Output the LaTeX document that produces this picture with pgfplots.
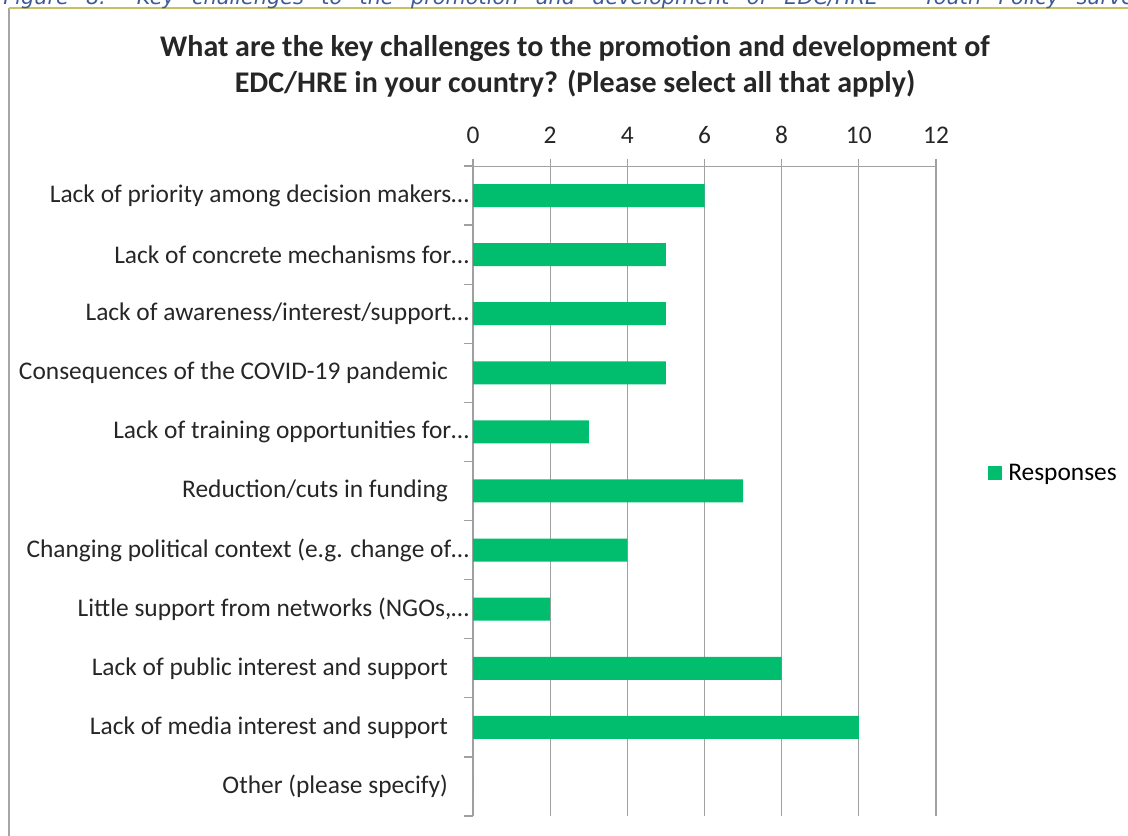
\documentclass[border=0pt]{standalone}
\usepackage{pgfplots}
\pgfplotsset{compat=1.18}
\usepackage{fontspec}
\setmainfont{Carlito}
\newfontfamily\capfont{DejaVu Sans}
\definecolor{barg}{HTML}{00BE6E}
\definecolor{capc}{HTML}{3D5A96}
\definecolor{gridc}{HTML}{A0A0A0}
\newcommand{\tsp}{\rule{10.5pt}{0pt}}
\begin{document}
\begin{tikzpicture}
\useasboundingbox (0pt,0pt) rectangle (564pt,417.5pt);
\clip (0pt,0pt) rectangle (564pt,417.5pt);
\begin{scope}[x=0.5pt,y=0.5pt]
\draw[gray!70, line width=0.8pt] (9,-10) -- (9,827);
\draw[yellow!50!gray, line width=0.6pt] (9,827) -- (1140,827);
\node[anchor=base west, inner sep=0pt, text=capc, font=\capfont\itshape\fontsize{10.4pt}{12pt}\selectfont] at (3,830)
  {\makebox[571.5pt][s]{Figure 8: Key challenges to the promotion and development of EDC/HRE – Youth Policy survey}};
\node[align=center, font=\bfseries\fontsize{15pt}{18pt}\selectfont, text=black!85] at (575,769)
  {What are the key challenges to the promotion and development of\\EDC/HRE in your country? (Please select all that apply)};
\end{scope}
\begin{axis}[
  scale only axis,
  width=231.5pt, height=325pt,
  at={(236.5pt,9.5pt)}, anchor=south west,
  xbar, bar width=11.5pt,
  xmin=0, xmax=12, ymin=0, ymax=11,
  axis x line*=top, axis y line*=left,
  axis line style={gridc},
  xtick={0,2,4,6,8,10,12},
  xmajorgrids, major grid style={gridc, line width=0.6pt},
  tick align=outside,
  major x tick style={gridc, line width=0.6pt},
  major tick length=3.5pt,
  ytick={0.5,1.5,2.5,3.5,4.5,5.5,6.5,7.5,8.5,9.5,10.5},
  major y tick style={draw=none},
  minor ytick={0,1,2,3,4,5,6,7,8,9,10,11},
  minor tick length=4.5pt,
  minor y tick style={gridc, line width=0.6pt},
  yticklabels={{Other (please specify)\tsp},
    {Lack of media interest and support\tsp},
    {Lack of public interest and support\tsp},
    {Little support from networks (NGOs,…}, 
    {Changing political context (e.g. change of…},
    {Reduction/cuts in funding\tsp},
    {Lack of training opportunities for…},
    {Consequences of the COVID-19 pandemic\tsp},
    {Lack of awareness/interest/support…},
    {Lack of concrete mechanisms for…},
    {Lack of priority among decision makers…}},
  yticklabel style={font=\fontsize{12.7pt}{14pt}\selectfont, text=black!85, xshift=5pt},
  xticklabel style={font=\fontsize{12.7pt}{14pt}\selectfont, text=black!85, yshift=4pt},
  /pgf/number format/assume math mode=true,
  legend style={at={(1.112,0.527)}, anchor=west, draw=none, fill=none,
    font=\fontsize{12.7pt}{14pt}\selectfont, inner sep=0pt,
    legend cell align=left},
  legend image code/.code={\fill[#1] (0pt,-3.5pt) rectangle (7pt,3.5pt);},
  clip=false,
]
\addplot[fill=barg, draw=none] coordinates {
  (6,10.5) (5,9.5) (5,8.5) (5,7.5) (3,6.5) (7,5.5) (4,4.5) (2,3.5) (8,2.5) (10,1.5) (0,0.5)};
\addlegendentry{\hspace{1pt}Responses}
\end{axis}
\end{tikzpicture}
\end{document}
